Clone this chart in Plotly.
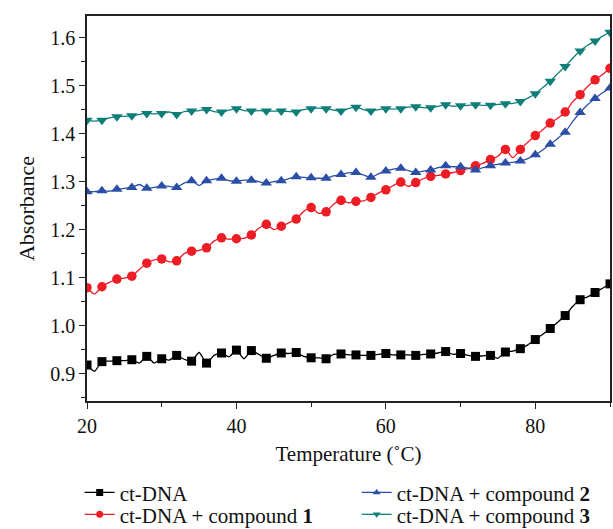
import plotly.graph_objects as go

temps = list(range(20, 91))

ct_dna = [0.918, 0.905, 0.925, 0.926, 0.927, 0.927, 0.929, 0.922, 0.936, 0.922,
          0.931, 0.928, 0.938, 0.930, 0.926, 0.944, 0.922, 0.938, 0.943, 0.935,
          0.949, 0.931, 0.948, 0.940, 0.932, 0.938, 0.943, 0.942, 0.944, 0.936,
          0.933, 0.933, 0.931, 0.940, 0.941, 0.939, 0.939, 0.938, 0.938, 0.940,
          0.942, 0.939, 0.939, 0.939, 0.938, 0.940, 0.941, 0.943, 0.946, 0.940,
          0.942, 0.938, 0.936, 0.937, 0.938, 0.932, 0.945, 0.947, 0.952, 0.960,
          0.971, 0.982, 0.994, 1.007, 1.021, 1.040, 1.054, 1.060, 1.069, 1.078,
          1.087]

comp1 = [1.079, 1.066, 1.081, 1.090, 1.097, 1.099, 1.103, 1.117, 1.130, 1.137,
         1.139, 1.133, 1.135, 1.150, 1.155, 1.157, 1.162, 1.176, 1.183, 1.180,
         1.181, 1.182, 1.189, 1.203, 1.211, 1.200, 1.207, 1.214, 1.222, 1.238,
         1.246, 1.234, 1.237, 1.253, 1.261, 1.256, 1.259, 1.260, 1.267, 1.276,
         1.283, 1.292, 1.299, 1.290, 1.298, 1.306, 1.311, 1.313, 1.316, 1.319,
         1.323, 1.327, 1.333, 1.338, 1.346, 1.353, 1.367, 1.350, 1.367, 1.382,
         1.396, 1.408, 1.422, 1.432, 1.445, 1.466, 1.481, 1.498, 1.512, 1.523,
         1.536]

comp2 = [1.279, 1.279, 1.281, 1.280, 1.284, 1.286, 1.288, 1.294, 1.286, 1.288,
         1.291, 1.290, 1.288, 1.297, 1.302, 1.292, 1.302, 1.305, 1.307, 1.302,
         1.301, 1.303, 1.303, 1.300, 1.297, 1.300, 1.302, 1.306, 1.310, 1.309,
         1.308, 1.307, 1.307, 1.312, 1.315, 1.318, 1.319, 1.314, 1.309, 1.316,
         1.322, 1.326, 1.328, 1.323, 1.319, 1.322, 1.324, 1.329, 1.333, 1.331,
         1.331, 1.328, 1.324, 1.329, 1.333, 1.336, 1.339, 1.340, 1.343, 1.348,
         1.356, 1.366, 1.378, 1.390, 1.403, 1.425, 1.444, 1.460, 1.473, 1.485,
         1.495]

comp3 = [1.428, 1.426, 1.428, 1.433, 1.435, 1.436, 1.437, 1.440, 1.442, 1.441,
         1.442, 1.445, 1.440, 1.446, 1.447, 1.448, 1.450, 1.446, 1.445, 1.449,
         1.452, 1.448, 1.447, 1.448, 1.447, 1.447, 1.447, 1.446, 1.445, 1.450,
         1.452, 1.453, 1.452, 1.449, 1.447, 1.452, 1.455, 1.450, 1.447, 1.450,
         1.452, 1.451, 1.452, 1.455, 1.456, 1.454, 1.454, 1.457, 1.460, 1.457,
         1.458, 1.459, 1.460, 1.459, 1.459, 1.461, 1.462, 1.463, 1.467, 1.474,
         1.483, 1.496, 1.509, 1.525, 1.540, 1.557, 1.572, 1.584, 1.593, 1.603,
         1.611]

series = [
    ("ct-DNA", ct_dna, "#000000", "square", 9),
    ("ct-DNA + compound <b>1</b>", comp1, "#ee1c25", "circle", 9.5),
    ("ct-DNA + compound <b>2</b>", comp2, "#2b4ea6", "triangle-up", 10),
    ("ct-DNA + compound <b>3</b>", comp3, "#0e7f78", "triangle-down", 10),
]

FONT = "Liberation Serif"
fig = go.Figure()

for name, vals, color, sym, size in series:
    fig.add_trace(go.Scatter(x=temps, y=vals, mode="lines",
                             line=dict(color=color, width=1.3, shape="spline", smoothing=0.6),
                             showlegend=False, hoverinfo="skip", cliponaxis=True))
    fig.add_trace(go.Scatter(x=temps[::2], y=vals[::2], mode="markers",
                             marker=dict(color=color, symbol=sym, size=size, line=dict(width=0)),
                             showlegend=False, name=name, cliponaxis=True))

# legend entries: row 1 -> legend, row 2 -> legend2
for idx, leg in [(0, "legend"), (2, "legend"), (1, "legend2"), (3, "legend2")]:
    name, vals, color, sym, size = series[idx]
    fig.add_trace(go.Scatter(x=[None], y=[None], mode="lines+markers", name=name,
                             line=dict(color=color, width=1.3),
                             marker=dict(color=color, symbol=sym, size=7),
                             legend=leg))

axis_common = dict(showline=True, linecolor="#222222", linewidth=1.5, mirror=True,
                   ticks="outside", ticklen=6, tickwidth=1.2, tickcolor="#222222",
                   showgrid=False, zeroline=False,
                   tickfont=dict(family=FONT, size=20, color="#111111"))

fig.update_xaxes(range=[20, 90], tick0=20, dtick=20,
                 minor=dict(ticks="outside", dtick=10, ticklen=4, tickwidth=1.2, tickcolor="#222222"),
                 title=dict(text="Temperature (˚C)", font=dict(family=FONT, size=21, color="#111111"), standoff=11),
                 **axis_common)
fig.update_yaxes(range=[0.843, 1.645], tick0=0.9, dtick=0.1, tickformat=".1f",
                 minor=dict(ticks="outside", dtick=0.05, tick0=0.85, ticklen=4, tickwidth=1.2, tickcolor="#222222"),
                 title=dict(text="Absorbance", font=dict(family=FONT, size=22, color="#111111"), standoff=10),
                 **axis_common)

legend_common = dict(orientation="h", x=-0.014, xanchor="left", yanchor="top",
                     entrywidth=232, entrywidthmode="pixels", traceorder="normal",
                     font=dict(family=FONT, size=21, color="#111111"),
                     itemwidth=30, bgcolor="rgba(0,0,0,0)")

fig.update_layout(
    width=613, height=529,
    margin=dict(l=87, r=3, t=16, b=128, autoexpand=False),
    paper_bgcolor="white", plot_bgcolor="white",
    font=dict(family=FONT, size=20, color="#111111"),
    legend=dict(y=-0.185, **legend_common),
    legend2=dict(y=-0.242, **legend_common),
)

fig.write_html("out.html", config={"displayModeBar": False},
               post_script="document.body.style.margin='0px';document.body.style.padding='0px';")
